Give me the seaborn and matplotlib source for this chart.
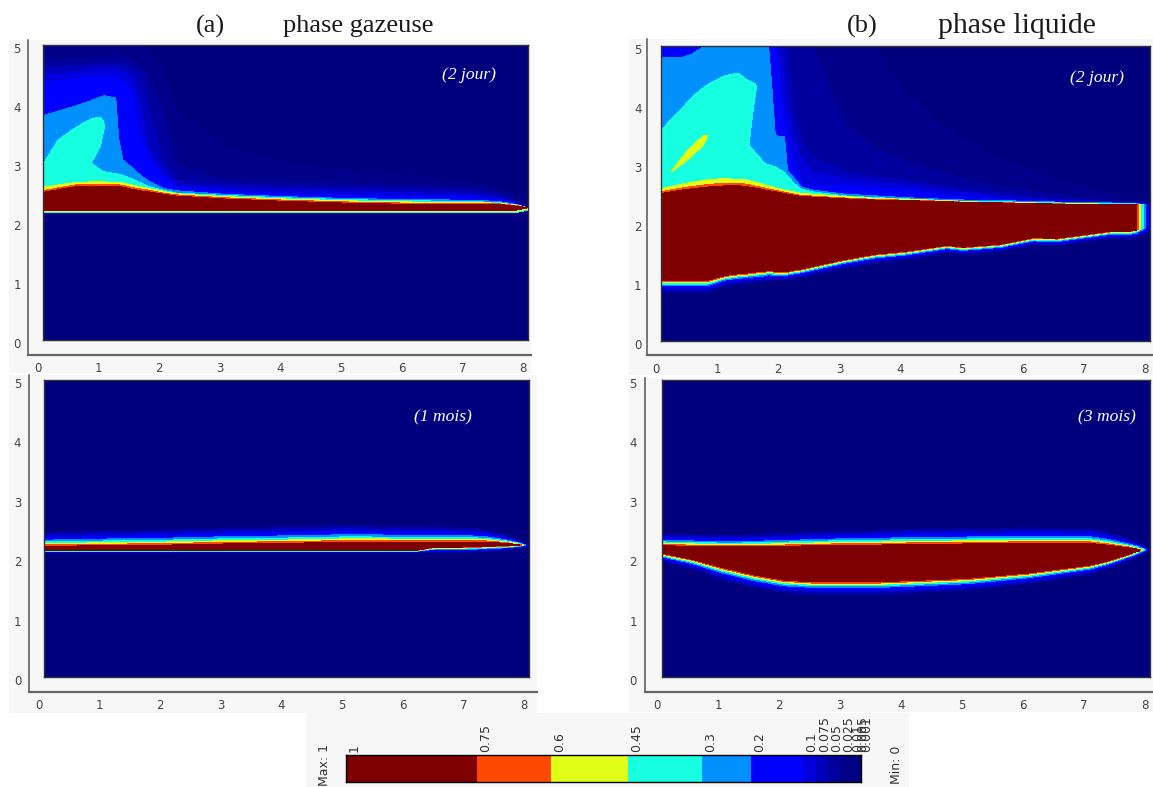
import numpy as np
import matplotlib
matplotlib.use('Agg')
import matplotlib.pyplot as plt
import matplotlib.transforms as mtrans
from matplotlib.colors import ListedColormap, BoundaryNorm
from matplotlib.patches import Rectangle
import seaborn as sns

# ==========================
# 1. Values
# ==========================

# colour scale, low to high
LEVELS = [0, 0.001, 0.005, 0.01, 0.025, 0.05, 0.075, 0.1, 0.2, 0.3, 0.45, 0.6, 0.75, 1]
LEVEL_COLORS = ['#00007f', '#000081', '#000084', '#000088', '#00009c', '#0000bb', '#0000dc',
                '#0000ff', '#0091ff', '#16ffe1', '#e1ff16', '#ff4800', '#7f0000']
BAR_LABELS = ['1', '0.75', '0.6', '0.45', '0.3', '0.2', '0.1', '0.075', '0.05', '0.025',
              '0.01', '0.005', '0.001']
BAR_STOPS = [0, 131, 205, 282, 356, 405, 457, 470, 482, 494, 503, 508, 512, 515]
BAR_BANDS = [0.9, 0.65, 0.5, 0.35, 0.25, 0.15, 0.09, 0.06, 0.04, 0.02, 0.008, 0.003, 0.0005]

# value between two neighbouring curves of a fringe around the red layer
LOW_BANDS = [0.0005, 0.04, 0.06, 0.09, 0.15, 0.25, 0.35, 0.5, 0.65, 0.9]
UP_BANDS = [0.65, 0.5, 0.35, 0.25, 0.15, 0.09, 0.06, 0.04, 0.0005]
LOW_FRACS = [1, 0.88, 0.75, 0.62, 0.45, 0.32, 0.2, 0.1, 0]
UP_FRACS = [0, 0.1, 0.2, 0.32, 0.45, 0.62, 0.75, 0.88, 1]

# (a) gas phase, 2 days
a1_x = [0, .25, .55, .8, .95, 1.0, 1.02, 1.2, 1.25, 1.32, 1.45, 1.6, 1.75, 1.98, 2.2, 3, 4, 5, 6, 7, 7.5, 7.8, 8]
a1_red_bottom = [2.2] * 22 + [2.24]
a1_red_top = [2.50, 2.55, 2.60, 2.61, 2.61, 2.61, 2.61, 2.60, 2.60, 2.59, 2.56, 2.53, 2.51, 2.47, 2.44, 2.39,
              2.35, 2.32, 2.30, 2.30, 2.30, 2.27, 2.24]
a1_orange = [2.53, 2.58, 2.63, 2.64, 2.64, 2.64, 2.64, 2.63, 2.63, 2.62, 2.59, 2.56, 2.54, 2.49, 2.46, 2.41,
             2.37, 2.34, 2.32, 2.32, 2.31, 2.28, 2.24]
a1_yellow = [2.59, 2.63, 2.67, 2.68, 2.68, 2.68, 2.68, 2.67, 2.67, 2.66, 2.63, 2.60, 2.57, 2.52, 2.48, 2.43,
             2.39, 2.36, 2.34, 2.33, 2.32, 2.29, 2.24]
a1_gap = [2.98, 3.0, 3.0, 3.0, 2.88, 2.86, 2.85, 2.82, 2.81, 2.79, 2.74, 2.67, 2.6, 2.54, 2.49, 2.45,
          2.41, 2.38, 2.36, 2.35, 2.33, 2.29, 2.24]
a1_blob_lo = [2.98, 3.0, 3.0, 3.0, 3.3, 3.55, 3.62] + a1_gap[7:]
a1_blob_hi = [2.98, 3.39, 3.61, 3.75, 3.78, 3.7, 3.62] + a1_gap[7:]
a1_c20 = [3.80, 3.88, 3.97, 4.06, 4.12, 4.14, 4.14, 4.10, 3.40, 3.05, 2.94, 2.80, 2.69, 2.57, 2.53, 2.47,
          2.43, 2.40, 2.38, 2.37, 2.35, 2.30, 2.24]
a1_c10 = [4.36, 4.39, 4.43, 4.46, 4.48, 4.49, 4.49, 4.45, 4.42, 4.38, 4.27, 3.5, 3.1, 2.78, 2.58, 2.52,
          2.48, 2.46, 2.44, 2.42, 2.38, 2.31, 2.24]
a1_c075 = [4.50, 4.52, 4.55, 4.58, 4.60, 4.61, 4.61, 4.60, 4.58, 4.55, 4.47, 4.1, 3.25, 2.9, 2.64, 2.58,
           2.54, 2.52, 2.50, 2.47, 2.42, 2.32, 2.24]
a1_c05 = [4.63, 4.64, 4.65, 4.67, 4.68, 4.68, 4.69, 4.69, 4.69, 4.68, 4.63, 4.52, 3.95, 3.1, 2.71, 2.64,
          2.60, 2.58, 2.56, 2.53, 2.47, 2.35, 2.24]
a1_c025 = [4.75, 4.76, 4.77, 4.77, 4.78, 4.78, 4.78, 4.78, 4.78, 4.78, 4.72, 4.62, 4.52, 3.8, 2.95, 2.72,
           2.68, 2.65, 2.62, 2.58, 2.52, 2.38, 2.24]
a1_c01 = [5.0] * 12 + [4.9, 4.6, 3.9, 3.3, 3.0, 2.9, 2.8, 2.7, 2.6, 2.42, 2.24]
a1_fade = [1] * 23

# (b) liquid phase, 2 days
b1_x = [0, .17, .35, .5, .7, .77, 1.05, 1.27, 1.4, 1.44, 1.5, 1.55, 1.56, 1.7, 1.76, 1.81, 1.87, 2.02, 2.07, 2.17,
        2.3, 2.47, 3, 3.5, 4, 4.68, 4.94, 5.55, 6.09, 6.48, 7.35, 7.65, 7.78, 7.85, 7.92, 7.97, 8]
b1_red_bottom = [1.03] * 6 + [1.11, 1.14, 1.15, 1.16, 1.16, 1.17, 1.17, 1.18, 1.2, 1.19, 1.18, 1.17, 1.18, 1.2,
                              1.22, 1.26, 1.38, 1.47, 1.52, 1.62, 1.59, 1.64, 1.75, 1.74, 1.86, 1.86,
                              1.88, 1.9, 1.9, 1.9, 1.9]
b1_low_thick = [.2] * 6 + [.17] * 10 + [.14] * 9 + [.12] * 12
b1_red_top = [2.50, 2.53, 2.56, 2.58, 2.60, 2.61, 2.63, 2.63, 2.62, 2.61, 2.6, 2.59, 2.59, 2.56, 2.55, 2.54, 2.53,
              2.5, 2.49, 2.47, 2.45, 2.44, 2.41, 2.39, 2.38, 2.36, 2.35, 2.34, 2.33, 2.32, 2.31, 2.31] + [2.31] * 5
b1_yellow_thick = [.08, .09, .1, .11, .12, .13, .12, .11, .11, .11, .1, .1, .1, .09, .08, .08, .07, .06, .06, .06,
                   .05, .05, .04, .03, .02, .02] + [.01] * 11
b1_ell_lo = [2.87, 2.87, 3.0, 3.13, 3.33, 3.48] + [2.8] * 31
b1_ell_hi = [2.87, 2.87, 3.12, 3.3, 3.48, 3.48] + [2.8] * 31
b1_gap = [3.55] * 6 + [3.5, 3.4, 3.35, 3.32, 3.25, 3.19, 3.18, 3.01, 2.99, 2.97, 2.95, 2.86, 2.8, 2.68,
                       2.57, 2.53, 2.46, 2.43, 2.41, 2.38, 2.37, 2.36, 2.35, 2.34, 2.33, 2.325] + [2.325] * 5
b1_blob_lo = b1_gap[:10] + [3.85, 4.2, 4.3] + b1_gap[13:]
b1_blob_hi = [3.57, 3.76, 3.95, 4.13, 4.3, 4.35, 4.5, 4.54, 4.43, 4.41, 4.38, 4.36, 4.3] + b1_gap[13:]
b1_c20 = [4.8, 4.8, 4.81, 4.86, 4.99, 5.05, 5.3, 5.4, 5.4, 5.4, 5.4, 5.4, 5.4, 5.3, 5.0, 4.36, 3.48, 3.46, 2.89, 2.77,
          2.61, 2.56, 2.49, 2.46, 2.43, 2.4, 2.39, 2.38, 2.365, 2.355, 2.34, 2.33] + [2.33] * 5
b1_c10 = [5.6] * 13 + [5.5, 5.4, 5.3, 5.1, 3.75, 3.55, 3.06, 2.66, 2.63, 2.63, 2.6, 2.57, 2.47, 2.45, 2.4, 2.37,
                       2.36, 2.345, 2.335] + [2.335] * 5
b1_c075 = [5.8] * 16 + [5.5, 4.5, 4.0, 3.5, 3.1, 2.86, 2.75, 2.7, 2.65, 2.55, 2.52, 2.45, 2.4, 2.38, 2.35,
                        2.34] + [2.34] * 5
b1_c05 = [6.0] * 16 + [5.8, 5.3, 5.05, 3.95, 3.4, 3.12, 2.88, 2.78, 2.72, 2.62, 2.58, 2.5, 2.44, 2.41, 2.36,
                       2.345] + [2.345] * 5
b1_c025 = [6.2] * 20 + [5.5, 5, 3.7, 3.25, 3.05, 2.82, 2.75, 2.62, 2.54, 2.48, 2.39, 2.36] + [2.36] * 5
b1_c01 = [6.4] * 22 + [6.2, 5, 4.2, 3.6, 3.45, 3.1, 2.9, 2.75, 2.5, 2.4] + [2.4] * 5
b1_fade = [1] * 32 + [.84, .5, .22, .11, .02]

# (a) gas phase, 1 month
a2_x = [0, 1, 2, 3, 4, 5, 6, 6.13, 6.4, 7, 7.3, 7.6, 7.85, 7.92, 7.97, 8]
a2_red_bottom = [2.13] * 8 + [2.18, 2.19, 2.2, 2.21, 2.22, 2.22, 2.22, 2.22]
a2_low_thick = [.04] * 8 + [.08, .09, .09, .08, .05, .04, .03, .02]
a2_red_top = [2.2, 2.21, 2.22, 2.24, 2.25, 2.27, 2.27, 2.27, 2.27, 2.27, 2.27, 2.25, 2.23, 2.22, 2.22, 2.22]
a2_up_thick = [.23, .25, .26, .27, .28, .28, .26, .26, .26, .24, .2, .14, .06, .04, .03, .02]
a2_fade = [1] * 12 + [.84, .4, .15, .02]

# (b) liquid phase, 3 months
b2_x = [0, .5, 1, 1.5, 2, 2.5, 3, 3.5, 4, 5, 6, 7, 7.3, 7.6, 7.82, 7.88, 7.93, 7.97, 8]
b2_red_bottom = [2.08, 1.98, 1.84, 1.72, 1.63, 1.6, 1.6, 1.6, 1.62, 1.66, 1.75, 1.88, 1.95, 2.05, 2.12,
                 2.13, 2.13, 2.13, 2.13]
b2_low_thick = [.13, .16, .2, .21, .21, .21, .21, .21, .21, .2, .18, .15, .13, .11, .08, .07, .06, .05, .04]
b2_red_top = [2.21, 2.2, 2.19, 2.19, 2.2, 2.21, 2.22, 2.22, 2.23, 2.24, 2.25, 2.25, 2.22, 2.18, 2.15,
              2.15, 2.15, 2.15, 2.15]
b2_up_thick = [.2, .2, .2, .21, .22, .23, .24, .25, .26, .26, .26, .25, .22, .16, .1, .08, .06, .05, .04]
b2_fade = [1] * 14 + [.84, .5, .2, .05, .01]

X_TICKS = [0, 1, 2, 3, 4, 5, 6, 7, 8]
Y_TICKS = [0, 1, 2, 3, 4, 5]

# ==========================
# 2. Helpers
# ==========================

sns.set_theme(style='white')
plt.rcParams['font.family'] = ['DejaVu Sans']

W, H = 1153, 787
GRAY_BG = '#f7f7f7'
fig = plt.figure(figsize=(W / 100, H / 100), dpi=100, facecolor='white')


def px_axes(x0, y0, x1, y1, **kw):
    # axes placed with picture pixels, y counted from the top
    return fig.add_axes([x0 / W, 1 - y1 / H, (x1 - x0) / W, (y1 - y0) / H], **kw)


def stack(edge, thick, fracs, sign):
    return [[e + sign * t * f for e, t in zip(edge, thick)] for f in fracs]


def draw_field(box, xs, curves, bands, fade, pad_x, pad_y):
    ax = px_axes(*box)
    # every band is a pair of rows sitting on the curves below and above it
    edges = np.vstack([np.zeros(len(xs)), np.array(curves), np.full(len(xs), 7.0)])
    Y = np.repeat(edges, 2, axis=0)[1:-1]
    X = np.tile(xs, (Y.shape[0], 1))
    Z = np.repeat(bands, 2)[:, None] * np.array(fade)[None, :]
    ax.contourf(X, Y, Z, levels=LEVELS, colors=LEVEL_COLORS)
    ax.set_xlim(0, 8)
    ax.set_ylim(0, 5)
    ax.set_xticks(X_TICKS)
    ax.set_yticks(Y_TICKS)
    ax.tick_params(length=0, labelsize=8.5, labelcolor='#444444')
    ax.tick_params(axis='x', pad=pad_x)
    ax.tick_params(axis='y', pad=pad_y)
    # the labels of the original sit a little off their ticks
    for lab in ax.get_xticklabels():
        lab.set_transform(lab.get_transform() + mtrans.ScaledTranslation(-5 / 100, 0, fig.dpi_scale_trans))
    for lab in ax.get_yticklabels():
        lab.set_transform(lab.get_transform() + mtrans.ScaledTranslation(0, -3 / 100, fig.dpi_scale_trans))
    for s in ax.spines.values():
        s.set_visible(True)
        s.set_color('#333333')
        s.set_linewidth(1.0)
    return ax


def back_panel(x0, y0, x1, y1, line_x, line_bottom):
    fig.add_artist(Rectangle((x0 / W, 1 - y1 / H), (x1 - x0) / W, (y1 - y0) / H, transform=fig.transFigure,
                             facecolor=GRAY_BG, edgecolor='none', zorder=-5))
    frame = px_axes(line_x, y0, x1, line_bottom, facecolor='none')
    frame.set_xticks([])
    frame.set_yticks([])
    frame.spines['top'].set_visible(False)
    frame.spines['right'].set_visible(False)
    frame.spines['left'].set_color('#555555')
    frame.spines['bottom'].set_color('#666666')
    frame.spines['left'].set_linewidth(1.1)
    frame.spines['bottom'].set_linewidth(1.6)


def fig_text(x, y, s, **kw):
    fig.text(x / W, 1 - y / H, s, ha='center', va='center', **kw)


# ==========================
# 3. Panels
# ==========================

back_panel(9, 40, 531, 373, 28, 355)
back_panel(9, 375, 537, 713, 29, 692)
back_panel(629, 39, 1153, 375, 647, 355)
back_panel(629, 378, 1153, 712, 645, 692)

# gas phase, 2 days
a1_curves = stack(a1_red_bottom, [.04] * 23, [1, .5, 0], -1) + [
    a1_red_top, a1_orange, a1_yellow, a1_gap, a1_blob_lo, a1_blob_hi,
    a1_c20, a1_c10, a1_c075, a1_c05, a1_c025, a1_c01]
a1_bands = [0.0005, 0.35, 0.5, 0.9, 0.65, 0.5, 0.35, 0.25, 0.35, 0.25, 0.15, 0.09, 0.06, 0.04, 0.02, 0.0005]
draw_field((43, 45, 528, 340), a1_x, a1_curves, a1_bands, a1_fade, 16, 16)

# liquid phase, 2 days
b1_orange = [r + t * .35 for r, t in zip(b1_red_top, b1_yellow_thick)]
b1_yellow = [r + t for r, t in zip(b1_red_top, b1_yellow_thick)]
b1_curves = stack(b1_red_bottom, b1_low_thick, LOW_FRACS, -1) + [
    b1_red_top, b1_orange, b1_yellow, b1_ell_lo, b1_ell_hi, b1_gap, b1_blob_lo, b1_blob_hi,
    b1_c20, b1_c10, b1_c075, b1_c05, b1_c025, b1_c01]
b1_bands = LOW_BANDS + [0.65, 0.5, 0.35, 0.5, 0.35, 0.25, 0.35, 0.25, 0.15, 0.09, 0.06, 0.04, 0.02, 0.0005]
draw_field((661, 46, 1150, 341), b1_x, b1_curves, b1_bands, b1_fade, 16, 14)

# gas phase, 1 month
a2_curves = stack(a2_red_bottom, a2_low_thick, LOW_FRACS, -1) + stack(a2_red_top, a2_up_thick, UP_FRACS, 1)
draw_field((43.5, 380, 529, 677), a2_x, a2_curves, LOW_BANDS + UP_BANDS, a2_fade, 16, 16)

# liquid phase, 3 months
b2_curves = stack(b2_red_bottom, b2_low_thick, LOW_FRACS, -1) + stack(b2_red_top, b2_up_thick, UP_FRACS, 1)
draw_field((662, 380, 1150, 677), b2_x, b2_curves, LOW_BANDS + UP_BANDS, b2_fade, 16, 18)

# ==========================
# 4. Colour bar
# ==========================

fig.add_artist(Rectangle((306 / W, 0), (909 - 306) / W, (787 - 713) / H, transform=fig.transFigure,
                         facecolor=GRAY_BG, edgecolor='none', zorder=-5))
bar_ax = px_axes(346, 755, 861, 782)
strip = np.repeat(BAR_BANDS, np.diff(BAR_STOPS))[None, :]
sns.heatmap(strip, ax=bar_ax, cbar=False, cmap=ListedColormap(LEVEL_COLORS),
            norm=BoundaryNorm(LEVELS, len(LEVEL_COLORS)), xticklabels=False, yticklabels=False)
bar_ax.xaxis.tick_top()
bar_ax.set_xticks([p + 2 for p in BAR_STOPS[:-1]])
bar_ax.set_xticklabels(BAR_LABELS, rotation=90, ha='left', fontsize=9, color='#333333')
bar_ax.tick_params(axis='x', length=0, pad=2)
for s in bar_ax.spines.values():
    s.set_visible(True)
    s.set_color('black')
    s.set_linewidth(1.0)

fig_text(324, 765, 'Max: 1', rotation=90, fontsize=9, color='#333333')
fig_text(897, 765, 'Min: 0', rotation=90, fontsize=9, color='#333333')

# ==========================
# 5. Titles and notes
# ==========================

serif = ['Liberation Serif', 'DejaVu Serif']
fig_text(210, 26, '(a)', family=serif, fontsize=19, color='#1a1a1a')
fig_text(358, 26, 'phase gazeuse', family=serif, fontsize=19, color='#1a1a1a')
fig_text(862, 26, '(b)', family=serif, fontsize=19, color='#1a1a1a')
fig_text(1017, 26, 'phase liquide', family=serif, fontsize=21.5, color='#1a1a1a')

for x, y, s in [(469, 75, '(2 jour)'), (1097, 78, '(2 jour)'), (443, 417, '(1 mois)'), (1107, 417, '(3 mois)')]:
    fig_text(x, y, s, family=serif, style='italic', fontsize=12.6, color='white')

fig.savefig('out.png', dpi=100)
plt.close(fig)
